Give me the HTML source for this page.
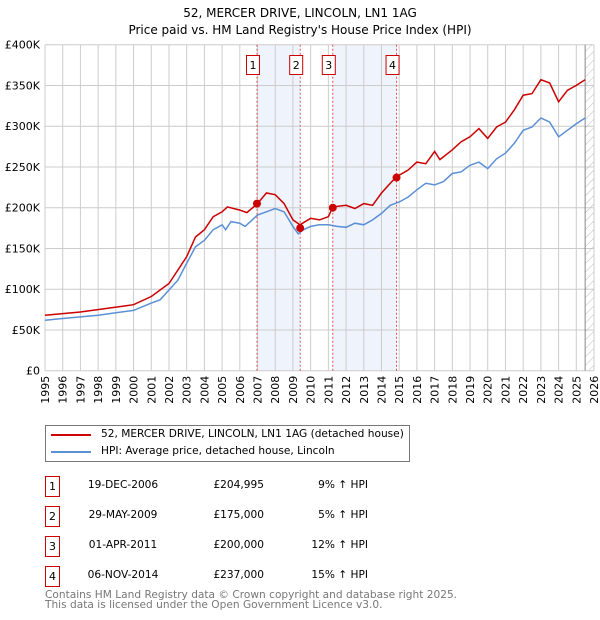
<!DOCTYPE html>
<html><head><meta charset="utf-8"><style>
body{margin:0;background:#fff;font-family:"DejaVu Sans","Liberation Sans",sans-serif;}
#wrap{position:relative;width:600px;height:620px;overflow:hidden;}
.t{position:absolute;font-size:10.6px;color:#000;white-space:nowrap;}
svg text{font-family:"DejaVu Sans","Liberation Sans",sans-serif;}
</style></head><body><div id="wrap">
<svg id="svg" width="600" height="620" style="position:absolute;left:0;top:0">
<defs><pattern id="hatch" width="6" height="6" patternUnits="userSpaceOnUse" patternTransform="rotate(45)"><line x1="0" y1="0" x2="0" y2="6" stroke="#bbb" stroke-width="1"/></pattern></defs>
<text x="300" y="17" text-anchor="middle" font-size="12">52, MERCER DRIVE, LINCOLN, LN1 1AG</text>
<text x="300" y="34" text-anchor="middle" font-size="12">Price paid vs. HM Land Registry's House Price Index (HPI)</text>
<g id="g"></g>
</svg>
<div style="position:absolute;left:45px;top:425px;width:363px;height:35px;border:1px solid #777;">
 <div style="position:absolute;left:5px;top:8px;width:40px;height:2px;background:#cc0000"></div>
 <div class="t" style="left:55px;top:2px">52, MERCER DRIVE, LINCOLN, LN1 1AG (detached house)</div>
 <div style="position:absolute;left:5px;top:25px;width:40px;height:2px;background:#5b8fd6"></div>
 <div class="t" style="left:55px;top:19px">HPI: Average price, detached house, Lincoln</div>
</div>
<div id="tbl"></div>
<div class="t" style="left:45px;top:590px;color:#777;line-height:10px">Contains HM Land Registry data © Crown copyright and database right 2025.<br>This data is licensed under the Open Government Licence v3.0.</div>
</div>
<script>
const hpiYears=[1995,1996,1997,1998,1999,2000,2001,2001.5,2002,2002.5,2003,2003.5,2004,2004.5,2005,2005.2,2005.5,2006,2006.3,2006.6,2007,2007.5,2008,2008.5,2009,2009.3,2009.6,2010,2010.5,2011,2011.5,2012,2012.5,2013,2013.5,2014,2014.5,2015,2015.5,2016,2016.5,2017,2017.5,2018,2018.5,2019,2019.5,2020,2020.5,2021,2021.5,2022,2022.5,2023,2023.5,2024,2024.5,2025,2025.5];
const hpiValues=[62,64,66,68,71,74,83,87,99,111,132,152,160,173,179,173,183,181,177,183,191,195,199,195,177,168,173,177,179,179,177,176,181,179,185,193,203,207,213,222,230,228,232,242,244,252,256,248,260,267,279,295,299,310,305,287,295,303,310];
const ppYears=[1995,1997,2000,2001,2002,2003,2003.5,2004,2004.5,2005,2005.3,2006,2006.4,2007,2007.5,2008,2008.5,2009,2009.4,2010,2010.5,2011,2011.25,2012,2012.5,2013,2013.5,2014,2014.5,2014.85,2015.5,2016,2016.5,2017,2017.3,2018,2018.5,2019,2019.5,2020,2020.5,2021,2021.5,2022,2022.5,2023,2023.5,2024,2024.5,2025,2025.5];
const ppValues=[68,72,81,91,107,140,164,173,189,195,201,197,194,205,218,216,205,185,179,187,185,189,201,203,199,205,203,218,230,238,246,256,254,269,259,271,281,287,297,285,299,305,320,338,340,357,353,330,344,350,357];
const saleDates=[2006.97,2009.41,2011.25,2014.85];
const saleLabels=["1","2","3","4"];
const salePrices=[204.995,175,200,237];
const saleDateText=["19-DEC-2006","29-MAY-2009","01-APR-2011","06-NOV-2014"];
const salePriceText=["£204,995","£175,000","£200,000","£237,000"];
const saleHpiText=["9% ↑ HPI","5% ↑ HPI","12% ↑ HPI","15% ↑ HPI"];
const yTicks=[0,50,100,150,200,250,300,350,400];
const yTickLabels=["£0","£50K","£100K","£150K","£200K","£250K","£300K","£350K","£400K"];
const X0=45,X1=594,Y0=370.7,Y1=44.7;
const x=v=>X0+(v-1995)*(X1-X0)/31;
const y=v=>Y0-v*(Y0-Y1)/400;
const NS="http://www.w3.org/2000/svg";
const g=document.getElementById('g');
function mk(tag,at,parent){const e=document.createElementNS(NS,tag);for(const k in at)e.setAttribute(k,at[k]);(parent||g).appendChild(e);return e;}
for(let i=0;i<4;i+=2){const r=mk('rect',{x:x(saleDates[i]),y:Y1,width:x(saleDates[i+1])-x(saleDates[i]),height:Y0-Y1,fill:'#eef3fc'});

}
for(let yr=1995;yr<=2026;yr++){const l=mk('line',{x1:x(yr),x2:x(yr),y1:Y1,y2:Y0,stroke:'#cccccc'});


const t=mk('text',{x:0,y:0,'font-size':11,'text-anchor':'end',transform:`translate(${x(yr)+4},${Y0+5}) rotate(-90)`});t.textContent=yr;

}
yTicks.forEach((v,i)=>{const l=mk('line',{x1:X0,x2:X1,y1:y(v),y2:y(v),stroke:'#cccccc'});


const t=mk('text',{x:X0-5,y:y(v)+4,'font-size':11,'text-anchor':'end'});t.textContent=yTickLabels[i];

});
const h=mk('rect',{x:x(2025.5),y:Y1,width:X1-x(2025.5),height:Y0-Y1,fill:'url(#hatch)'});


const hl=mk('line',{x1:x(2025.5),x2:x(2025.5),y1:Y1,y2:Y0,stroke:'#888'});


saleDates.forEach((d,i)=>{const l=mk('line',{x1:x(d),x2:x(d),y1:Y1,y2:Y0,stroke:'#e05050','stroke-dasharray':'2,2'});


const b=mk('rect',{x:x(d)-10.5,y:55.5,width:13,height:19,fill:'#fff',stroke:'#cc0000'});


const t=mk('text',{x:x(d)-4,y:69,'font-size':11,'text-anchor':'middle'});t.textContent=saleLabels[i];

});
function path(xs,vs){return xs.map((d,i)=>(i?'L':'M')+x(d).toFixed(1)+','+y(vs[i]).toFixed(1)).join('');}
const bl=mk('path',{d:path(hpiYears,hpiValues),fill:'none',stroke:'#5b8fd6','stroke-width':1.5});


const rl=mk('path',{d:path(ppYears,ppValues),fill:'none',stroke:'#cc0000','stroke-width':1.5});


saleDates.forEach((d,i)=>{const c=mk('circle',{cx:x(d),cy:y(salePrices[i]),r:4,fill:'#cc0000'});

});
const tbl=document.getElementById('tbl');
saleLabels.forEach((lab,i)=>{const top=476+i*30;
const row=document.createElement('div');row.style.cssText=`position:absolute;left:0;top:${top}px;width:600px;height:20px`;


row.innerHTML=`<div style="position:absolute;left:45px;top:0;width:13px;height:19px;border:1px solid #cc0000;font-size:11px;text-align:center;line-height:19px">${lab}</div>
<div class="t" style="left:85px;top:3px;width:76px;text-align:center">${saleDateText[i]}</div>
<div class="t" style="left:195px;top:3px;width:69px;text-align:right">${salePriceText[i]}</div>
<div class="t" style="left:298px;top:3px;width:70px;text-align:right">${saleHpiText[i]}</div>`;
tbl.appendChild(row);});
</script></body></html>
